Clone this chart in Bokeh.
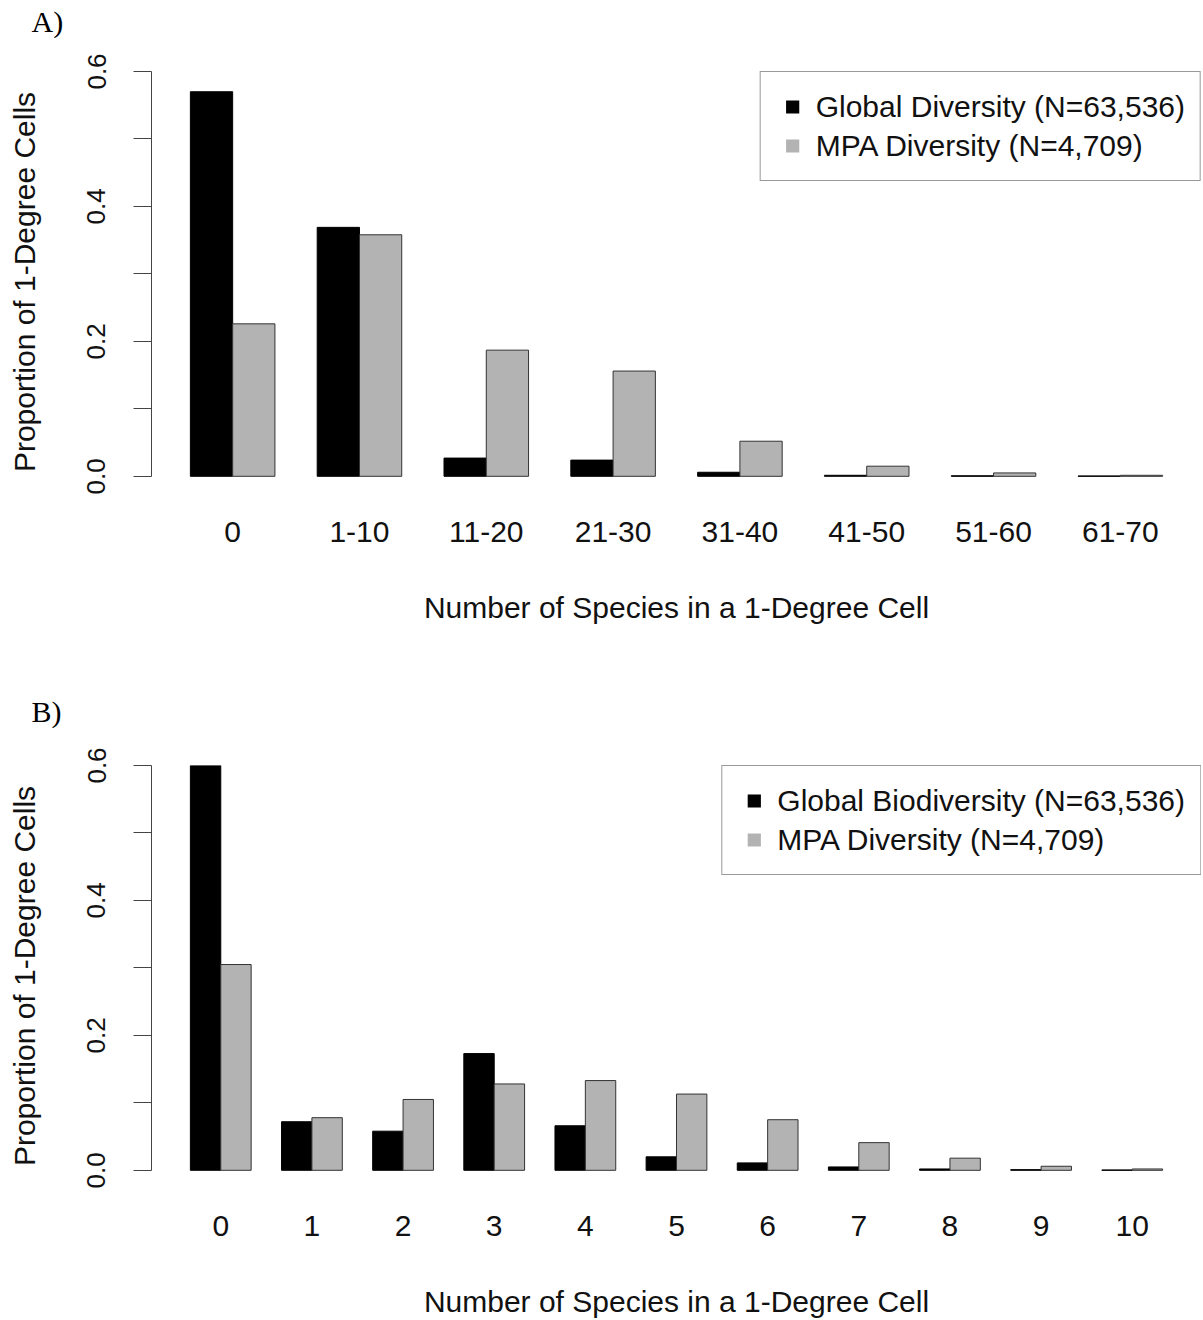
from bokeh.plotting import figure
from bokeh.models import (Range1d, FixedTicker, Legend, LegendItem,
                          PrintfTickFormatter, Title)
from bokeh.layouts import column
from bokeh.embed import file_html
from bokeh.resources import INLINE

# ---------------- data ----------------
cats_a = ["0", "1-10", "11-20", "21-30", "31-40", "41-50", "51-60", "61-70"]
global_a = [0.570, 0.369, 0.027, 0.024, 0.006, 0.0015, 0.0008, 0.0005]
mpa_a = [0.226, 0.358, 0.187, 0.156, 0.052, 0.015, 0.005, 0.0015]
label_global_a = "Global Diversity (N=63,536)"
label_mpa_a = "MPA Diversity (N=4,709)"

cats_b = ["0", "1", "2", "3", "4", "5", "6", "7", "8", "9", "10"]
global_b = [0.600, 0.072, 0.058, 0.173, 0.066, 0.020, 0.011, 0.005, 0.002, 0.001, 0.0005]
mpa_b = [0.305, 0.078, 0.105, 0.128, 0.133, 0.113, 0.075, 0.041, 0.018, 0.006, 0.002]
label_global_b = "Global Biodiversity (N=63,536)"
label_mpa_b = "MPA Diversity (N=4,709)"

y_ticks = [0.0, 0.2, 0.4, 0.6]
y_minor = [0.1, 0.3, 0.5]
x_title = "Number of Species in a 1-Degree Cell"
y_title = "Proportion of 1-Degree Cells"

FONT = "Liberation Sans"
GREY = "#b3b3b3"
AXC = "#444444"


def panel(cats, glob, mpa, lab_g, lab_m, tag, height, btop, bbottom, gap):
    n = len(cats)
    x_black = [3 * i + 1.5 for i in range(n)]
    x_grey = [3 * i + 2.5 for i in range(n)]
    centers = [3 * i + 2 for i in range(n)]
    span = 3 * n - 1
    pad = 0.04 * span
    p = figure(width=1203, height=height, output_backend="svg",
               toolbar_location=None,
               x_range=Range1d(1 - pad, 3 * n + pad),
               y_range=Range1d(-0.024, 0.6),
               min_border_left=151, min_border_right=2,
               min_border_top=btop, min_border_bottom=bbottom)
    p.outline_line_color = None
    p.xgrid.visible = False
    p.ygrid.visible = False
    p.background_fill_color = "white"
    p.border_fill_color = "white"

    # panel tag "A)" / "B)" with an empty spacer between it and the frame
    spacer = Title(text=" ", text_font_size="2px", standoff=gap)
    tag_title = Title(text=tag, align="left", offset=-120,
                      text_font="Liberation Serif", text_font_size="30px",
                      text_font_style="normal", text_color="black",
                      standoff=0)
    p.add_layout(spacer, "above")
    p.add_layout(tag_title, "above")

    p.vbar(x=x_black, top=glob, bottom=0, width=1.0,
           fill_color="black", line_color="black", line_width=1)
    p.vbar(x=x_grey, top=mpa, bottom=0, width=1.0,
           fill_color=GREY, line_color="#333333", line_width=1)

    # hidden renderers used only as legend swatches
    rg = p.scatter(x=x_black, y=glob, marker="square", size=13,
                   fill_color="black", line_color=None, visible=False)
    rm = p.scatter(x=x_grey, y=mpa, marker="square", size=13,
                   fill_color=GREY, line_color=None, visible=False)

    # x axis
    xa = p.xaxis[0]
    xa.ticker = FixedTicker(ticks=centers)
    xa.major_label_overrides = {c: s for c, s in zip(centers, cats)}
    xa.axis_line_color = None
    xa.major_tick_line_color = None
    xa.minor_tick_line_color = None
    xa.major_tick_out = 0
    xa.major_tick_in = 0
    xa.major_label_standoff = 29
    xa.major_label_text_font = FONT
    xa.major_label_text_font_size = "30px"
    xa.major_label_text_color = "#111111"
    xa.axis_label = x_title
    xa.axis_label_text_font = FONT
    xa.axis_label_text_font_size = "30px"
    xa.axis_label_text_font_style = "normal"
    xa.axis_label_text_color = "#111111"
    xa.axis_label_standoff = 46

    # y axis
    ya = p.yaxis[0]
    ya.ticker = FixedTicker(ticks=y_ticks, minor_ticks=y_minor)
    ya.formatter = PrintfTickFormatter(format="%.1f")
    ya.bounds = (0, 0.6)
    ya.axis_line_color = AXC
    ya.major_tick_line_color = AXC
    ya.minor_tick_line_color = AXC
    ya.major_tick_out = 18
    ya.major_tick_in = 0
    ya.minor_tick_out = 18
    ya.minor_tick_in = 0
    ya.major_label_orientation = "vertical"
    ya.major_label_standoff = 28
    ya.major_label_text_font = FONT
    ya.major_label_text_font_size = "26px"
    ya.major_label_text_color = "#111111"
    ya.axis_label = y_title
    ya.axis_label_text_font = FONT
    ya.axis_label_text_font_size = "30px"
    ya.axis_label_text_font_style = "normal"
    ya.axis_label_text_color = "#111111"
    ya.axis_label_standoff = 44

    legend = Legend(items=[LegendItem(label=lab_g, renderers=[rg]),
                           LegendItem(label=lab_m, renderers=[rm])],
                    location="top_right", margin=0, padding=15, spacing=0,
                    glyph_width=33, glyph_height=39, label_height=39,
                    label_standoff=7,
                    label_text_font=FONT, label_text_font_size="30px",
                    label_text_color="#111111",
                    border_line_color="#333333", border_line_width=1,
                    background_fill_color="white", background_fill_alpha=1)
    p.add_layout(legend)
    return p


pa = panel(cats_a, global_a, mpa_a, label_global_a, label_mpa_a, "A)",
           660, 71, 168, 30)
pb = panel(cats_b, global_b, mpa_b, label_global_b, label_mpa_b, "B)",
           660, 105, 133, 34)

layout = column(pa, pb, spacing=0)
open("out.html", "w").write(file_html(layout, INLINE))
